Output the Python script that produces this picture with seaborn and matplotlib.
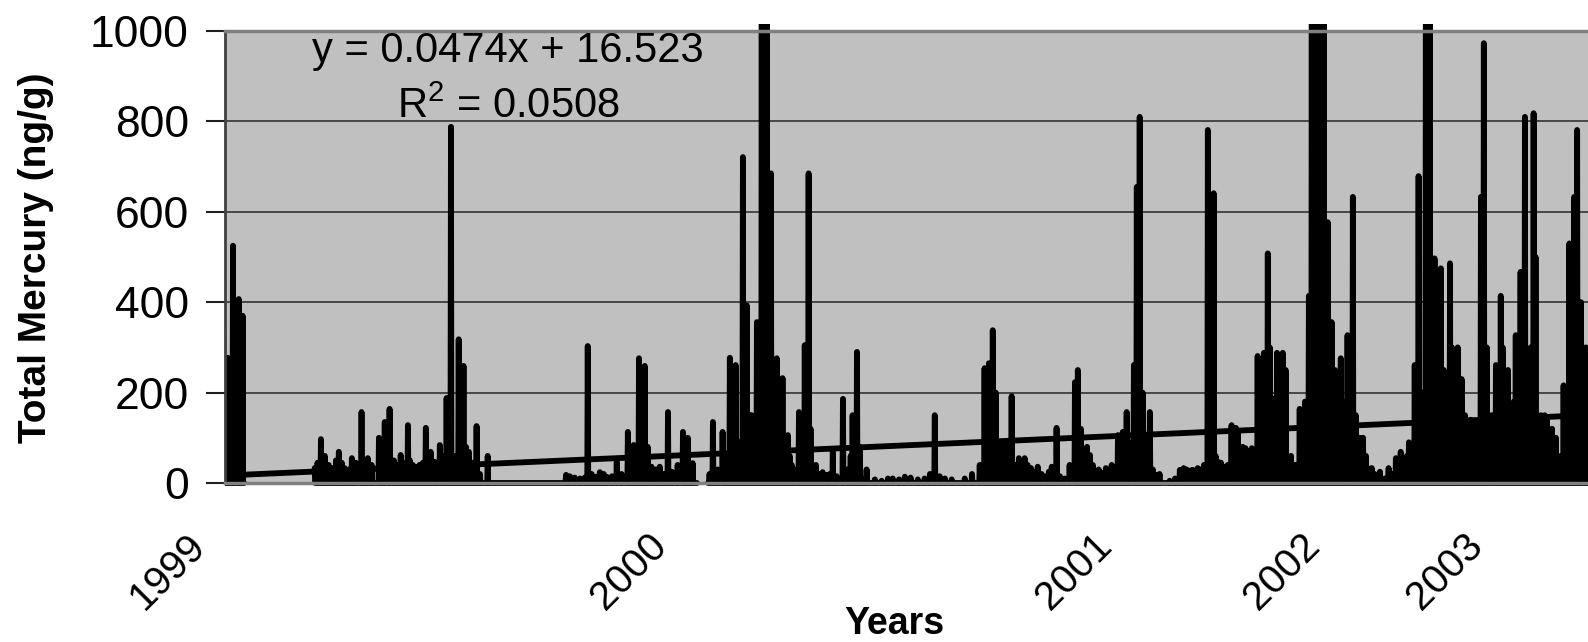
import numpy as np
import pandas as pd
import matplotlib
matplotlib.use("Agg")
import matplotlib.pyplot as plt
import seaborn as sns
from matplotlib.transforms import ScaledTranslation, Bbox, TransformedBbox

# ---- data -------------------------------------------------------------
n_samples = 2820
# stretches of the record that contain measurements (sample numbers, inclusive)
sampled_ranges = [(1, 40), (186, 977), (1000, 2820)]

# peak total mercury readings (ng/g); values above 1000 run off the axis
peak_sample = [
    6, 17, 29, 37,
    186, 199, 207, 223, 236, 248, 263, 283, 296, 319, 331, 341, 356, 364, 379,
    389, 403, 416, 426, 434, 445, 459, 468, 484, 494, 505, 513, 521, 544,
    706, 724, 745, 751, 768, 776, 790, 811, 834, 846, 857, 869, 883, 900, 917,
    948, 958, 968,
    1010, 1030, 1045, 1057, 1072, 1080, 1090, 1101, 1111, 1121, 1130, 1142,
    1154, 1165, 1173, 1188, 1200, 1208, 1217, 1237, 1246, 1258, 1279, 1299,
    1308, 1322, 1382, 1407, 1459, 1469,
    1572, 1581, 1589, 1599, 1610, 1620, 1628, 1643, 1655, 1668, 1682, 1711,
    1721, 1759, 1765, 1777, 1790, 1802, 1812, 1823, 1835, 1848, 1858, 1866,
    1881, 1887, 1893, 1906, 1914, 1928, 1976, 1984, 1995, 2003, 2013, 2026,
    2034, 2046, 2055, 2069, 2083, 2092, 2100, 2112, 2125, 2137, 2150, 2158,
    2166, 2177, 2189, 2201, 2212, 2224, 2235, 2243, 2249, 2257, 2266, 2274,
    2282, 2290, 2301, 2309, 2323, 2334, 2355, 2365, 2373, 2383, 2394, 2408,
    2423, 2433, 2441, 2450, 2462, 2470, 2485, 2493, 2503, 2516, 2535, 2545,
    2559, 2572, 2588, 2599, 2605, 2615, 2630, 2640, 2648, 2663, 2671, 2681,
    2690, 2708, 2717, 2731, 2739, 2750, 2758, 2770, 2782, 2792, 2798, 2808,
]
peak_hg = [
    277, 525, 407, 370,
    33, 97, 60, 33, 69, 33, 55, 157, 55, 100, 135, 164, 40, 62, 128,
    40, 40, 122, 69, 47, 84, 188, 788, 318, 259, 69, 45, 126,
    60, 18, 12, 12, 303, 14, 24, 14, 47, 113, 84, 276, 259, 36, 36,
    157, 113, 100,
    44, 135, 113, 277, 261, 721, 393, 150, 356, 1100, 1100, 685,
    276, 232, 106, 40, 157, 305, 685, 18, 24, 18, 69, 186,
    150, 290, 8, 10, 14, 20,
    150, 254, 265, 338, 84, 84, 89, 192, 55, 55, 33, 36,
    36, 122, 223, 250, 62, 62, 24, 24, 33, 40, 106, 113,
    157, 261, 655, 810, 40, 157, 18, 29, 33, 24, 29, 33,
    40, 781, 641, 47, 36, 128, 122, 64, 77, 77, 281, 288,
    508, 188, 288, 288, 40, 40, 164, 180, 414, 1100, 1100, 1100,
    1100, 577, 356, 210, 276, 327, 633, 100, 33, 33, 18, 8,
    33, 55, 69, 55, 90, 261, 679, 1100, 1100, 497, 475, 486,
    237, 230, 135, 135, 633, 973, 139, 261, 414, 210, 172, 327,
    467, 810, 818, 143, 150, 106, 90, 40, 216, 530, 633, 781,
]

# lower readings lying between the peaks
minor_sample = [
    192, 215, 230, 242, 257, 271, 290, 304, 325, 350, 370, 383, 397, 410,
    422, 441, 451, 463, 476, 490, 499, 509, 517, 528,
    714, 735, 759, 784, 801, 821, 840, 852, 863, 875, 892, 908, 925, 937,
    954, 964,
    1003, 1020, 1037, 1051, 1064, 1076, 1086, 1097, 1105, 1115, 1126, 1136,
    1148, 1161, 1169, 1179, 1194, 1204, 1212, 1223, 1231, 1252, 1266, 1289,
    1295, 1314, 1328,
    1345, 1359, 1372, 1395, 1419, 1434, 1448, 1479, 1490, 1504,
    1531, 1546, 1562, 1577, 1585, 1595, 1606, 1614, 1624, 1635, 1649, 1661,
    1674, 1690, 1699, 1705, 1717, 1728, 1738, 1748, 1771, 1784, 1796, 1808,
    1819, 1829, 1841, 1852, 1862, 1872, 1899, 1910, 1920, 1934,
    1955, 1966, 1980, 1990, 1999, 2009, 2019, 2030, 2040, 2050, 2061, 2075,
    2088, 2096, 2106, 2119, 2131, 2143,
    2154, 2162, 2170, 2183, 2195, 2206, 2218, 2228, 2239, 2253, 2261, 2270,
    2278, 2286, 2297, 2305, 2315, 2330, 2340, 2348, 2361,
    2379, 2390, 2400, 2417, 2429, 2437, 2446, 2456, 2466, 2477,
    2497, 2510, 2522, 2528, 2539, 2551, 2566, 2578, 2582, 2595, 2611, 2621,
    2636, 2644, 2655, 2659, 2667, 2677, 2686, 2696, 2702, 2712, 2723, 2735,
    2746, 2754, 2764, 2777, 2789, 2806, 2816,
]
minor_hg = [
    45, 40, 50, 45, 30, 45, 35, 40, 60, 50, 45, 50, 35, 45,
    50, 35, 60, 40, 60, 50, 80, 40, 30, 20,
    15, 10, 20, 20, 15, 20, 60, 40, 45, 80, 30, 20, 25, 40,
    60, 40,
    20, 30, 60, 50, 90, 120, 150, 80, 120, 200, 300, 150,
    120, 90, 60, 30, 50, 70, 120, 40, 20, 20, 15, 30,
    60, 80, 30,
    8, 5, 10, 8, 12, 8, 10, 15, 10, 8,
    10, 20, 40, 120, 180, 200, 60, 70, 60, 40, 30, 40,
    25, 20, 15, 25, 30, 15, 10, 40, 120, 80, 40, 30,
    20, 25, 35, 60, 80, 90, 200, 100, 30, 20,
    5, 10, 25, 30, 28, 25, 30, 35, 40, 60, 45, 40,
    60, 110, 80, 60, 70, 90,
    200, 300, 150, 250, 250, 60, 40, 90, 130, 300, 500, 700,
    400, 300, 250, 200, 180, 200, 150, 100, 60,
    20, 25, 10, 20, 40, 50, 60, 70, 120, 200,
    400, 350, 250, 200, 300, 300, 150, 140, 120, 130, 300, 150,
    200, 300, 250, 150, 180, 200, 300, 200, 300, 500, 150, 140,
    120, 100, 60, 120, 300, 400, 300,
]

year_labels = ["1999", "2000", "2001", "2002", "2003"]
year_first_sample = [1, 954, 1875, 2305, 2644]

trend_slope = 0.0474
trend_intercept = 16.523
r_squared = 0.0508

# ---- assemble the record ---------------------------------------------
hg = np.full(n_samples, np.nan)
segment = np.full(n_samples, -1)
for k, (a, b) in enumerate(sampled_ranges):
    hg[a - 1:b] = 0.0
    segment[a - 1:b] = k
for s, v in zip(minor_sample, minor_hg):
    hg[s - 1] = v
for s, v in zip(peak_sample, peak_hg):
    hg[s - 1] = v

samples = np.arange(1, n_samples + 1)
df = pd.DataFrame({"sample": samples, "hg": hg, "segment": segment})
df = df[df["segment"] >= 0]
trend_df = pd.DataFrame({"sample": samples,
                         "trend": trend_slope * samples + trend_intercept})

# ---- figure -----------------------------------------------------------
sns.set_theme(style="white")
plt.rcParams["font.family"] = ["Liberation Sans", "DejaVu Sans"]
plt.rcParams["mathtext.fontset"] = "custom"
plt.rcParams["mathtext.rm"] = "Liberation Sans"
for key in ["text.color", "axes.labelcolor", "xtick.color", "ytick.color"]:
    plt.rcParams[key] = "black"

W, H = 1588, 642
fig = plt.figure(figsize=(W / 100, H / 100), dpi=100)
ax = fig.add_axes([225 / W, 159 / H, 1363 / W, 452 / H])
ax.set_facecolor("#c0c0c0")

sns.lineplot(data=df, x="sample", y="hg", units="segment", estimator=None,
             sort=False, color="black", linewidth=4.2, ax=ax)
sns.lineplot(data=trend_df, x="sample", y="trend", color="black",
             linewidth=4.2, ax=ax)

clip = TransformedBbox(Bbox([[0, -0.03], [1, 1.016]]), ax.transAxes)
for ln in ax.lines:
    ln.set_clip_box(clip)
    ln.set_solid_joinstyle("round")
    ln.set_solid_capstyle("round")

ax.set_xlim(0.5, n_samples + 0.5)
ax.set_ylim(0, 1000)
ax.set_yticks([0, 200, 400, 600, 800, 1000])
ax.yaxis.grid(True, color="#333333", linewidth=1.2)
ax.set_axisbelow(True)

for side in ["top", "bottom"]:
    ax.spines[side].set_color("#808080")
    ax.spines[side].set_linewidth(2.5)
ax.spines["left"].set_color("#404040")
ax.spines["left"].set_linewidth(2.0)
ax.spines["right"].set_visible(False)

ax.tick_params(axis="y", left=True, length=14, width=1.5, color="#202020",
               pad=12, labelsize=32, labelcolor="black")
ax.set_xticks(year_first_sample)
ax.set_xticklabels(year_labels)
ax.tick_params(axis="x", bottom=True, length=0, pad=31, labelsize=29,
               labelcolor="black")
shift = ScaledTranslation(-39 / 100, 0, fig.dpi_scale_trans)
for lab in ax.get_xticklabels():
    lab.set_rotation(45)
    lab.set_ha("right")
    lab.set_va("top")
    lab.set_rotation_mode("anchor")
    lab.set_transform(lab.get_transform() + shift)

ax.set_xlabel("")
ax.set_ylabel("")

ax.text(0.2076, 0.9314, f"y = {trend_slope}x + {trend_intercept}",
        transform=ax.transAxes, ha="center", va="baseline", fontsize=30,
        color="black")
ax.text(0.2076, 0.8075, r"$\mathregular{R^2}$" + f" = {r_squared:.4f}",
        transform=ax.transAxes, ha="center", va="baseline", fontsize=30,
        color="black")

fig.text(36 / W, 1 - 258 / H, "Total Mercury (ng/g)", rotation=90,
         ha="center", va="center", fontsize=28, fontweight="bold",
         color="black")
fig.text(894 / W, 8 / H, "Years", ha="center", va="baseline",
         fontsize=27, fontweight="bold", color="black")

fig.savefig("out.png", dpi=100)
